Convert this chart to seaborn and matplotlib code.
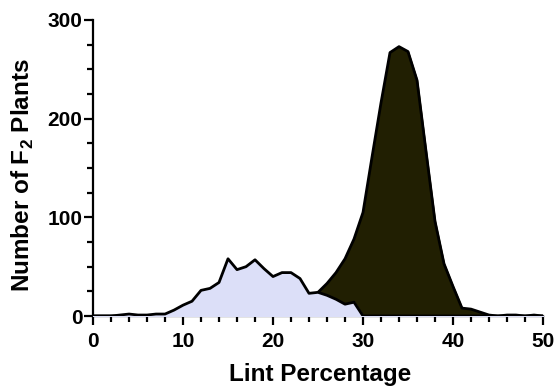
import matplotlib
matplotlib.use("Agg")
import matplotlib.pyplot as plt
import numpy as np
import pandas as pd
import seaborn as sns
from matplotlib.ticker import MultipleLocator

# Lint percentage classes (x) and F2 plant counts
lint_pct = list(range(0, 51))
n_light = [0, 0, 0, 1, 2, 1, 1, 2, 2, 6,
           11, 15, 26, 28, 34, 58, 47, 50, 57, 48,
           40, 44, 44, 38, 23, 24, 21, 17, 12, 14,
           0, 0, 0, 0, 0, 0, 0, 0, 0, 0,
           0, 0, 0, 0, 0, 0, 0, 0, 0, 0, 0]
n_dark = [0, 0, 0, 0, 0, 0, 0, 0, 0, 0,
          0, 0, 0, 0, 0, 0, 0, 0, 0, 0,
          0, 1, 3, 8, 15, 24, 33, 44, 58, 78,
          105, 161, 216, 267, 273, 268, 239, 167, 96, 53,
          30, 8, 7, 4, 1, 0, 1, 1, 0, 1, 0]

df = pd.DataFrame({"lint": lint_pct, "light": n_light, "dark": n_dark})

sns.set_theme(style="ticks")
plt.rcParams["font.family"] = ["Liberation Sans", "DejaVu Sans"]
plt.rcParams["font.weight"] = "bold"
plt.rcParams["mathtext.fontset"] = "custom"
plt.rcParams["mathtext.rm"] = "Liberation Sans:bold"
plt.rcParams["mathtext.bf"] = "Liberation Sans:bold"

fig = plt.figure(figsize=(5.56, 3.86), dpi=100)
ax = fig.add_axes([0.1673, 0.1813, 0.8093, 0.7669])

ax.fill_between(df["lint"], df["dark"], color="#211f02", zorder=2)
sns.lineplot(data=df, x="lint", y="dark", color="black", linewidth=2, ax=ax, zorder=3)
ax.fill_between(df["lint"], df["light"], color="#dcdff8", zorder=4)
sns.lineplot(data=df, x="lint", y="light", color="black", linewidth=2, ax=ax, zorder=5)

ax.set_xlim(0, 50)
ax.set_ylim(0, 300)
ax.xaxis.set_major_locator(MultipleLocator(10))
ax.xaxis.set_minor_locator(MultipleLocator(2))
ax.yaxis.set_major_locator(MultipleLocator(100))
ax.yaxis.set_minor_locator(MultipleLocator(25))

sns.despine(ax=ax)
for s in ["left", "bottom"]:
    ax.spines[s].set_linewidth(1.6)
    ax.spines[s].set_color("black")
ax.tick_params(which="major", length=6.5, width=1.6, color="black",
               labelsize=15, labelcolor="black")
ax.tick_params(which="minor", length=4, width=1.6, color="black")
ax.tick_params(axis="x", which="major", pad=5)
ax.tick_params(axis="y", which="major", pad=1)
for lab in ax.get_xticklabels() + ax.get_yticklabels():
    lab.set_fontweight("bold")

ax.set_xlabel("Lint Percentage", fontsize=17.5, fontweight="bold", color="black",
              va="center")
ax.set_ylabel(r"Number of F$_{\mathbf{2}}$ Plants", fontsize=17.5, fontweight="bold",
              color="black", va="center")
ax.xaxis.set_label_coords(0.505, -0.199)
ax.yaxis.set_label_coords(-0.156, 0.476)

fig.savefig("out.png", dpi=100)
